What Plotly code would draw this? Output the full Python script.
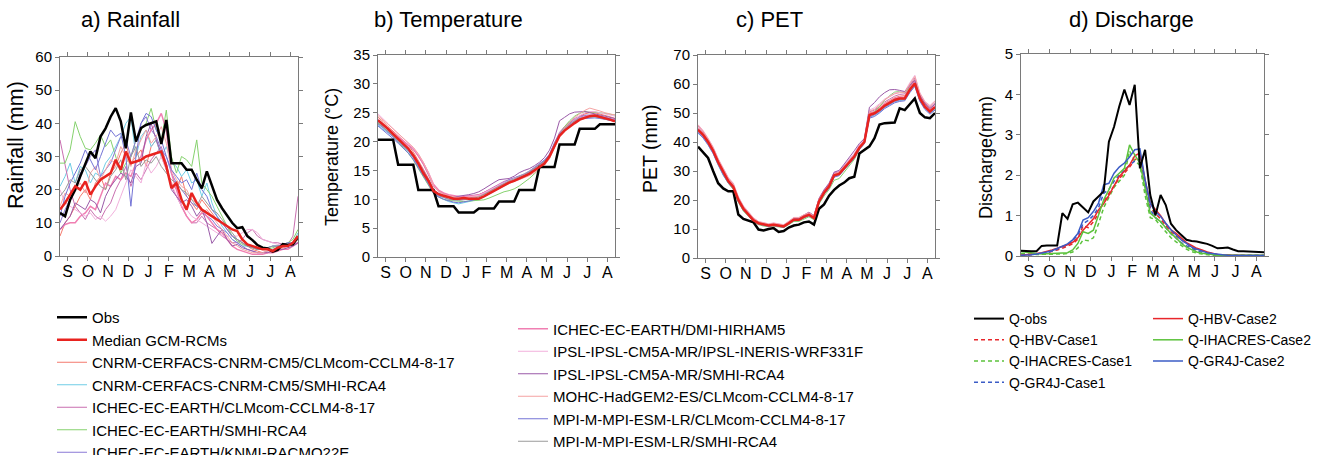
import plotly.graph_objects as go

W, H = 1339, 455

months = ["S", "O", "N", "D", "J", "F", "M", "A", "M", "J", "J", "A"]
month_pos = [1.5, 5.5, 9.5, 13.5, 17.5, 21.5, 25.5, 29.5, 33.5, 37.5, 41.5, 45.5]
steps = list(range(48))

model_names = [
    "CNRM-CERFACS-CNRM-CM5/CLMcom-CCLM4-8-17",
    "CNRM-CERFACS-CNRM-CM5/SMHI-RCA4",
    "ICHEC-EC-EARTH/CLMcom-CCLM4-8-17",
    "ICHEC-EC-EARTH/SMHI-RCA4",
    "ICHEC-EC-EARTH/KNMI-RACMO22E",
    "ICHEC-EC-EARTH/DMI-HIRHAM5",
    "IPSL-IPSL-CM5A-MR/IPSL-INERIS-WRF331F",
    "IPSL-IPSL-CM5A-MR/SMHI-RCA4",
    "MOHC-HadGEM2-ES/CLMcom-CCLM4-8-17",
    "MPI-M-MPI-ESM-LR/CLMcom-CCLM4-8-17",
    "MPI-M-MPI-ESM-LR/SMHI-RCA4",
]
model_colors = ["#f47a6e", "#6fcde6", "#c96fb0", "#86d26e", "#8a7ad6", "#f07fb2",
                "#f2b0dc", "#9a5aa8", "#f5a3a3", "#7474d6", "#9a9a9a"]

# ---------------- Rainfall (mm) ----------------
obs_rain = [13,12,17,20,24,28,31.5,29.5,36,38.5,42,44.6,40.6,32.5,43.3,34.5,38.6,39.5,40,40.6,
            33.8,41,28,28,28,26,26,23,20.4,25.5,21,17,14.4,12,10,8.4,8.7,6,4.8,3.3,
            2.5,2.3,1.3,1.8,3.6,3.3,3.5,5.8]
med_rain = [14,16,18.5,21,20,22.5,18.5,21,23,24,25,29,26,31.5,28,28.5,29,30,30.5,31,
            31.5,27,20.5,22,17,14,19,16,14,13,12,11,10,9,8,7.5,5,3.5,3,2.5,
            2,2,1.5,2.5,3,3,4,6]
rain_m1 = [6,10,12,15,18,20,17,22,24,20,25,27,31,34,28,30,32,27,33,35,30,26,22,20,24,18,16,14,17,15,13,11,10,8,6,5,4,3,2,1.5,1,1,1.5,2,2.5,3,3.5,5]
rain_m2 = [21,24,28,22,27,26,22,25,24,28,30,33,36,40,42,30,36,38,33,35,30,33,28,27,24,26,22,23,18,22,16,12,9,7,5,4,3,3,2.5,2,2,2.5,3,3,3,3.5,4,7]
rain_m3 = [35,28,20,15,13,11,14,12,11,14,16,20,23,27,21,25,23,26,29,31,33,28,21,18,15,12,10,10,12,10,9,8,6,5,4,4,5,7,8,6,5,4.5,4,4,3.5,3.5,6,18]
rain_m4 = [28,28,32,40.5,36,32.5,32,34,36.5,33,35,30,25,28,30,35,38,40,44.5,38,35,44,30,25,30,29,27,35,22,20,18,15,12,9,6,4.5,3.5,3,2.5,2,2,2,2.5,3,3.5,4,5,8]
rain_m5 = [10,14,17,20,25,27,30,32,24,26,28,32,36,35,30,35,40,42,38,36,32,30,25,22,20,18,16,15,14,12,11,9,8,7,5,4,3,2,1.5,1,1,1.5,2,2.5,3,3,3.5,4]
rain_m6 = [8,9.5,10,10,12,13,15,14,18,22,21,24,23,25,24,28,30,35,38,40,43,38,25,20,15,12,10,11,13,12,10,8,7,5,3,2,1.5,1,0.5,0.5,0.5,1,1,1.5,2,2,3,4]
rain_m7 = [20,16,15,14,13,12,13,11,12,10.5,12,14,18,22,26,24,22,28,25,27,30,26,22,18,15,14,12,11,10,9,8,7,6,6,6,6,7,8,8,7,5,4.5,4,3.5,3,3,4,5]
rain_m8 = [8,10,12,16,15,14,17,16,13,18,21,23,25,24,22,27,28,36,40,35,31,28,20,18,16,17,15,12,14,10,3.8,6,8,5,3,3.5,2.5,2,1.5,1,1,1,1.5,2,2,2.5,3,4]
rain_m9 = [15,19,18,20,22,19,25,27,23,26,29,28,33,30,27,32,35,38,34,36,39,34,26,23,21,20,17,16,13,14,12,10,8,6,4,3,2,1.5,1,1,1,1.5,2,2,2.5,3,3.5,5]
rain_m10 = [12,18,22,25,28,32,29,26,30,34,38,36,37,30,15,30,40,43,42,38,35,30,26,24,22,23,20,25,20,18,14,12,10,8,6,5,4,3,2.5,2,2,2.5,3,3,3.5,4,4,5]
rain_m11 = [18,20,23,22,26,27,25,23,21,20,24,26,29,23,30,33,27,29,28,30,27,25,23,22,20,19,17,15,18,16,14,13,11,9,7,5,4,3,2.5,2,2,2.5,3,3,3,3.5,4,5]

# ---------------- Temperature (°C) ----------------
obs_temp = [20.3,20.3,20.3,20.3,16,16,16,16,11.6,11.6,11.6,11.6,8.8,8.8,8.8,8.8,7.7,7.7,7.7,7.7,
            8.4,8.4,8.4,8.4,9.6,9.6,9.6,9.6,11.6,11.6,11.6,11.6,15.6,15.6,15.6,15.6,19.5,19.5,19.5,19.5,
            22.2,22.2,22.2,22.2,23,23,23,23]
med_temp = [23.7,23,22.2,21.3,20.5,19.6,18.8,17.6,16.2,14.5,13.2,11.4,10.9,10.6,10.3,10.1,10.1,10.2,10.1,10.1,
            10.1,10.5,11,11.5,12,12.5,12.9,13.2,13.6,13.9,14.4,15,15.6,16.2,17.4,19.2,21,21.9,22.6,23.2,
            23.8,24.1,24.4,24.5,24.3,24.1,23.8,23.5]
temp_m1 = [24.2,23.5,22.6,21.8,21,20.2,19.4,18.2,16.8,15.2,13.6,11.8,11,10.6,10.3,10.2,10.1,10.3,10.4,10.6,10.8,11.2,11.6,12,12.4,12.8,13.2,13.5,13.8,14.2,14.8,15.4,16,16.6,17.6,19.6,21.4,22.4,23.2,23.8,24.4,24.8,25,25,24.8,24.6,24.3,24]
temp_m2 = [22.8,22.2,21.5,20.8,20,19.2,18.3,17.2,15.8,14.2,12.8,11.2,10.5,10,9.6,9.4,9.2,9.4,9.6,9.8,10,10.4,10.9,11.4,11.9,12.4,12.8,13.2,13.6,14,14.5,15.1,15.8,16.5,17.5,19.4,21.2,22.2,23,23.6,24,24.2,24.3,24.3,24.2,24,23.8,23.5]
temp_m3 = [23.4,22.8,22.1,21.4,20.7,20,19.4,18.6,17.5,16,14.2,12.2,11.4,11,10.6,10.4,10.4,10.5,10.6,10.7,10.8,11.2,11.7,12.2,12.7,13.1,13.4,13.7,14,14.3,14.8,15.4,16,16.6,17.8,19.8,21.6,22.6,23.4,24,24.4,24.6,24.6,24.5,24.4,24.2,24,23.8]
temp_m4 = [23.2,22.5,21.7,20.9,20,19,18,16.8,15.3,13.8,12.4,11,10.4,10,9.8,9.7,9.6,9.6,9.7,9.8,9.8,9.9,10.2,10.6,11,11.3,11.5,11.8,12.3,12.9,13.6,14.4,15.2,16,17.2,19.2,21.2,22.6,23.6,24.4,24.9,25.2,25.2,25.1,25,24.9,24.8,24.6]
temp_m5 = [23,22.4,21.6,20.8,20,19.2,18.4,17.2,15.8,14.3,12.8,11.2,10.6,10.3,10,9.9,9.9,10,10.2,10.4,10.6,11,11.5,12,12.5,13,13.4,13.7,14,14.4,14.9,15.5,16.1,16.8,17.8,19.8,21.4,22.4,23.2,23.8,24.2,24.5,24.6,24.6,24.4,24.2,24,23.7]
temp_m6 = [23.8,23.1,22.3,21.5,20.8,20,19.4,18.8,17.6,16.2,14.6,12.6,11.6,11.1,10.8,10.6,10.5,10.5,10.5,10.6,10.7,11,11.4,11.9,12.3,12.7,13,13.3,13.6,14,14.5,15.1,15.7,16.3,17.3,19.3,21.1,22.1,22.9,23.5,24,24.3,24.5,24.5,24.3,24.1,23.9,23.6]
temp_m7 = [24.8,24,23.1,22.2,21.4,20.6,19.8,18.9,17.8,16.4,14.7,12.4,11.3,10.8,10.5,10.4,10.3,10.3,10.4,10.5,10.7,11.1,11.5,12,12.5,12.9,13.3,13.6,13.9,14.3,14.8,15.4,16,16.6,17.4,19,20.8,22,23,23.8,24.5,25,25.2,25.2,25,24.8,24.6,24.4]
temp_m8 = [23.5,22.8,22,21.2,20.4,19.6,18.8,17.8,16.5,15,13.4,11.6,11,10.7,10.5,10.4,10.5,10.6,10.8,11,11.3,11.8,12.4,12.9,13.4,13.5,13.6,14,14.6,15,15.3,15.8,16.4,17.2,18.5,20.6,23.6,24.2,24.8,25.1,25.2,25.2,25,24.8,24.6,24.4,24.2,24]
temp_m9 = [24.5,23.8,23,22.2,21.4,20.6,19.9,19,17.9,16.4,14.6,12.4,11.4,10.9,10.6,10.4,10.3,10.3,10.3,10.4,10.5,10.8,11.2,11.6,12,12.4,12.8,13.1,13.4,13.7,14.1,14.6,15.2,15.9,17,19,21,22.4,23.4,24.2,24.8,25.4,25.8,25.6,25.3,25,24.8,24.6]
temp_m10 = [22.7,22,21.3,20.5,19.7,18.9,18,16.9,15.5,14,12.6,11,10.4,10,9.7,9.5,9.4,9.5,9.7,9.9,10.1,10.5,11,11.5,12,12.5,12.9,13.3,13.7,14.1,14.7,15.3,16,16.7,17.6,19.3,21,22,22.8,23.4,23.8,24,24.1,24.1,24,23.9,23.7,23.5]
temp_m11 = [23.3,22.6,21.8,21,20.2,19.4,18.6,17.5,16,14.5,13,11.3,10.7,10.3,10,9.9,9.8,9.9,10,10.2,10.4,10.8,11.3,11.8,12.3,12.8,13.2,13.5,13.9,14.3,14.8,15.4,16,16.6,17.5,19.4,21.2,22.2,23,23.6,24,24.2,24.3,24.3,24.1,23.9,23.7,23.5]

# ---------------- PET (mm) ----------------
obs_pet = [38.4,36.5,34.5,30,25.8,24,23,23,15,13.5,13,12.3,9.8,9.5,10,10.3,9,9.3,10.5,11.2,
           11.5,12.3,12.6,11.5,17,18.5,21.5,23.5,25,26,27.5,28,36,37.3,38.5,41.3,46,46.5,46.5,46.7,
           51.6,51,53,55,50,48.5,48.2,50]
med_pet = [44.2,42.5,40,37,33,29.5,26.5,24.5,20,17,15,13,12,11.5,11.2,11.5,11.2,10.9,12,13.2,
           13.2,14.2,14.9,13.8,19.5,22.5,24.7,28.5,29,31,33,35,38,40,49.3,49.9,51,52.5,53.5,54.5,
           55,55,58,60.2,55,52.2,50.5,52]
pet_m1 = [45,43,40.5,37.5,33.5,30,27,25,20.5,17.5,15.5,13.5,12.3,11.8,11.5,11.8,11.5,11.2,12.4,13.6,13.6,14.6,15.3,14.2,20,23,25.2,29,29.5,31.5,33.5,35.5,38.5,40.5,50,50.5,51.8,53.3,54.3,55.3,55.8,56,59,61.5,56,53,51.5,53]
pet_m2 = [43,41.5,39,36,32,28.5,25.8,23.8,19.3,16.3,14.5,12.6,11.6,11.2,10.9,11.2,10.9,10.6,11.6,12.8,12.8,13.8,14.5,13.4,19,22,24.2,28,28.5,30.5,32.5,34.5,37.5,39.5,48.5,49.2,50.2,51.8,52.8,53.8,54.3,54.5,57.2,59.4,54.2,51.5,49.8,51.2]
pet_m3 = [45.5,43.5,41,38,34,30.5,27.5,25.5,20.8,17.7,15.6,13.6,12.4,11.9,11.6,11.9,11.6,11.3,12.5,13.8,13.8,14.8,15.5,14.4,20.3,23.3,25.5,29.3,29.8,31.8,33.8,35.8,38.8,40.8,50.4,51,52.3,53.8,54.8,55.8,56.4,56.6,59.6,62,56.4,53.4,52,53.5]
pet_m4 = [44,42.2,39.6,36.4,32.4,28.8,25.8,23.6,19.2,16.2,14.4,12.5,11.5,11,10.8,11,10.7,10.5,11.5,12.6,12.6,13.5,14.2,13.2,18.6,21.4,23.6,26.8,27.4,29.6,31.8,34,37.4,39.6,48.8,50.4,52.2,54.4,56,57.2,57.4,57,58.8,60,54.6,51.8,50.2,51.6]
pet_m5 = [43.5,41.8,39.4,36.4,32.6,29,26.2,24.2,19.8,16.8,14.8,12.8,11.8,11.3,11,11.3,11,10.7,11.8,13,13,14,14.7,13.6,19.2,22.2,24.4,28.2,28.7,30.8,32.8,34.8,37.8,39.8,48.6,49.4,50.5,52,53,54,54.5,54.7,57.5,59.8,54.6,51.8,50.2,51.6]
pet_m6 = [44.6,42.8,40.3,37.3,33.3,29.8,26.8,24.8,20.3,17.3,15.3,13.3,12.2,11.7,11.4,11.7,11.4,11.1,12.2,13.4,13.4,14.4,15.1,14,19.8,22.8,25,28.8,29.3,31.3,33.3,35.3,38.3,40.3,49.6,50.2,51.4,52.9,53.9,54.9,55.4,55.5,58.5,60.8,55.5,52.6,51,52.4]
pet_m7 = [46,44,41.3,38.3,34.3,30.8,27.8,25.8,21.2,18,15.9,13.9,12.6,12.1,11.8,12.1,11.8,11.5,12.7,14,14,15,15.8,14.6,20.6,23.6,25.8,29.6,30.1,32.1,34.1,36.1,39,41,51,51.8,53.2,54.8,55.8,56.8,57.3,57.4,60.4,63,57,54,52.6,54.2]
pet_m8 = [44.4,42.6,40.2,37.2,33.2,29.7,26.7,24.7,20.2,17.2,15.2,13.2,12.1,11.6,11.3,11.6,11.3,11,12.2,13.5,13.6,14.8,15.8,14.6,20.5,23.5,25.8,29.6,30.2,32.4,34.6,37,39.5,41.2,52,53.6,55.6,57,58,58.1,57.8,57.4,59.5,61.2,56,53.2,51.6,53]
pet_m9 = [45.8,43.8,41.1,38.1,34.1,30.6,27.6,25.6,21,17.8,15.8,13.8,12.5,12,11.7,12,11.7,11.4,12.6,13.9,13.9,14.9,15.6,14.5,20.2,23,25.2,29,29.6,31.6,33.6,35.6,38.6,40.6,50.6,51.3,52.8,54.5,55.6,56.6,57,57,60,62.6,56.8,53.8,52.3,54]
pet_m10 = [43.2,41.4,39,36,32.2,28.7,25.9,23.9,19.5,16.5,14.6,12.7,11.7,11.2,10.9,11.2,10.9,10.6,11.7,12.9,12.9,13.9,14.6,13.5,19,22,24.1,27.9,28.4,30.4,32.4,34.4,37.4,39.4,48.2,48.8,50,51.5,52.5,53.5,54,54.2,57,59.2,54,51.2,49.6,51]
pet_m11 = [44,42.2,39.8,36.8,32.8,29.3,26.3,24.3,19.8,16.8,14.9,12.9,11.9,11.4,11.1,11.4,11.1,10.8,11.9,13.1,13.1,14.1,14.8,13.7,19.4,22.4,24.6,28.4,28.9,30.9,32.9,34.9,37.9,39.9,49,49.7,50.8,52.2,53.2,54.2,54.7,54.8,57.7,60,54.8,52,50.3,51.8]

# ---------------- Discharge (mm) ----------------
q_obs = [0.13,0.12,0.12,0.12,0.25,0.26,0.26,0.26,1.06,0.92,1.28,1.32,1.2,1.08,1.35,1.47,1.6,2.83,3.2,3.7,
         4.12,3.74,4.24,2.17,2.63,1.51,1.0,1.51,1.26,0.8,0.64,0.52,0.4,0.37,0.36,0.33,0.3,0.25,0.19,0.2,
         0.21,0.16,0.12,0.12,0.11,0.1,0.1,0.09]
q_hbv1 = [0.01,0.02,0.03,0.04,0.06,0.08,0.11,0.15,0.19,0.24,0.3,0.42,0.75,0.7,0.85,1.05,1.35,1.55,1.75,1.92,
          2.05,2.2,2.38,2.45,1.8,1.2,1.05,0.92,0.75,0.6,0.5,0.4,0.3,0.22,0.16,0.12,0.08,0.05,0.03,0.02,
          0.02,0.01,0.01,0.01,0.01,0.01,0.01,0.01]
q_ihacres1 = [0.06,0.05,0.04,0.04,0.04,0.04,0.04,0.05,0.05,0.06,0.1,0.2,0.4,0.38,0.45,0.8,1.2,1.45,1.7,1.85,
              2.0,2.6,2.35,2.25,1.5,0.95,0.9,0.75,0.6,0.45,0.35,0.25,0.17,0.11,0.07,0.05,0.03,0.02,0.02,0.01,
              0.01,0.01,0.01,0.01,0.01,0.01,0.01,0.01]
q_gr4j1 = [0.01,0.02,0.03,0.04,0.06,0.09,0.12,0.17,0.22,0.28,0.38,0.52,0.8,0.88,1.0,1.2,1.55,1.65,1.85,2.0,
           2.12,2.25,2.35,2.4,1.75,1.15,0.95,0.85,0.7,0.55,0.44,0.33,0.25,0.18,0.13,0.09,0.06,0.04,0.03,0.02,
           0.01,0.01,0.01,0.01,0.01,0.01,0.01,0.01]
q_hbv2 = [0.02,0.03,0.04,0.06,0.08,0.11,0.15,0.19,0.23,0.28,0.34,0.45,0.64,0.78,0.92,1.14,1.3,1.5,1.75,1.97,
          2.1,2.25,2.48,2.55,1.88,1.3,1.15,1.0,0.8,0.65,0.56,0.45,0.33,0.26,0.19,0.15,0.1,0.07,0.04,0.03,
          0.02,0.02,0.02,0.01,0.01,0.01,0.01,0.01]
q_ihacres2 = [0.11,0.09,0.07,0.06,0.05,0.05,0.06,0.07,0.07,0.08,0.15,0.31,0.6,0.56,0.64,1.0,1.39,1.64,1.93,2.05,
              2.17,2.75,2.5,2.3,1.64,1.06,0.95,0.85,0.7,0.56,0.45,0.31,0.22,0.15,0.1,0.07,0.05,0.03,0.02,0.02,
              0.02,0.02,0.02,0.02,0.02,0.02,0.02,0.02]
q_gr4j2 = [0.02,0.02,0.03,0.05,0.07,0.1,0.13,0.19,0.24,0.3,0.4,0.56,0.89,0.95,1.1,1.31,1.76,1.8,2.05,2.2,
           2.3,2.45,2.63,2.65,1.88,1.3,1.1,0.98,0.81,0.65,0.52,0.4,0.31,0.22,0.17,0.12,0.08,0.06,0.04,0.03,
           0.02,0.02,0.01,0.01,0.01,0.01,0.01,0.01]

rain_models = [rain_m1, rain_m2, rain_m3, rain_m4, rain_m5, rain_m6, rain_m7, rain_m8, rain_m9, rain_m10, rain_m11]
temp_models = [temp_m1, temp_m2, temp_m3, temp_m4, temp_m5, temp_m6, temp_m7, temp_m8, temp_m9, temp_m10, temp_m11]
pet_models = [pet_m1, pet_m2, pet_m3, pet_m4, pet_m5, pet_m6, pet_m7, pet_m8, pet_m9, pet_m10, pet_m11]

FONT = "Liberation Sans, Arial, sans-serif"
fig = go.Figure()

panels = [("x", "y", rain_models, obs_rain, med_rain),
          ("x2", "y2", temp_models, obs_temp, med_temp),
          ("x3", "y3", pet_models, obs_pet, med_pet)]

for p, (xa, ya, models, obs, med) in enumerate(panels):
    for k, series in enumerate(models):
        fig.add_trace(go.Scatter(
            x=steps, y=series, xaxis=xa, yaxis=ya, mode="lines",
            line=dict(color=model_colors[k], width=1.5 if k == 5 else 1),
            name=model_names[k], legendgroup="m%d" % k,
            showlegend=(p == 0), legend="legend" if k < 5 else "legend2",
            legendrank=3 + k))
    fig.add_trace(go.Scatter(x=steps, y=obs, xaxis=xa, yaxis=ya, mode="lines",
                             line=dict(color="black", width=2.5), name="Obs",
                             legendgroup="obs", showlegend=(p == 0), legend="legend", legendrank=1))
    fig.add_trace(go.Scatter(x=steps, y=med, xaxis=xa, yaxis=ya, mode="lines",
                             line=dict(color="#e8231f", width=2.5), name="Median GCM-RCMs",
                             legendgroup="med", showlegend=(p == 0), legend="legend", legendrank=2))

RED, GREEN, BLUE = "#e8262b", "#5cc23c", "#3b5cc6"
q_series = [
    (q_hbv1, "Q-HBV-Case1", RED, "4px,3px", "legend3", 2),
    (q_ihacres1, "Q-IHACRES-Case1", GREEN, "4px,3px", "legend3", 3),
    (q_gr4j1, "Q-GR4J-Case1", BLUE, "4px,3px", "legend3", 4),
    (q_hbv2, "Q-HBV-Case2", RED, "solid", "legend4", 5),
    (q_ihacres2, "Q-IHACRES-Case2", GREEN, "solid", "legend4", 6),
    (q_gr4j2, "Q-GR4J-Case2", BLUE, "solid", "legend4", 7),
]
for ys, nm, col, dash, lg, rk in q_series:
    fig.add_trace(go.Scatter(x=steps, y=ys, xaxis="x4", yaxis="y4", mode="lines",
                             line=dict(color=col, width=1.5, dash=dash), name=nm,
                             legendgroup=nm, legend=lg, legendrank=rk))
fig.add_trace(go.Scatter(x=steps, y=q_obs, xaxis="x4", yaxis="y4", mode="lines",
                         line=dict(color="black", width=2), name="Q-obs",
                         legendgroup="qobs", legend="legend3", legendrank=1))

# panel geometry in pixels: (left, right, top, bottom)
boxes = [(60, 298, 57, 256), (378, 615, 55, 257), (698, 935, 55, 258), (1021, 1264, 54, 256)]
yranges = [(0, 60, 10), (0, 35, 5), (0, 70, 10), (0, 5, 1)]

axis_common = dict(showline=True, linecolor="#7a7a7a", linewidth=1, mirror="ticks",
                   ticks="outside", ticklen=4, tickcolor="#7a7a7a", showgrid=False,
                   zeroline=False)
layout = dict(width=W, height=H, margin=dict(l=0, r=0, t=0, b=0, autoexpand=False),
              paper_bgcolor="white", plot_bgcolor="white",
              font=dict(family=FONT, color="black"))
for i, (l, r, t, b) in enumerate(boxes):
    sfx = "" if i == 0 else str(i + 1)
    y0, y1, dt = yranges[i]
    layout["xaxis" + sfx] = dict(axis_common, domain=[l / W, r / W], range=[0, 47],
                                 tickvals=month_pos, ticktext=months, ticklabelstandoff=-3,
                                 tickfont=dict(size=16), anchor="y" + sfx)
    layout["yaxis" + sfx] = dict(axis_common, domain=[1 - b / H, 1 - t / H], range=[y0, y1],
                                 dtick=dt, tickfont=dict(size=15), anchor="x" + sfx)

leg_common = dict(xref="container", yref="container", xanchor="left", yanchor="top",
                  bgcolor="rgba(0,0,0,0)", font=dict(size=15, family=FONT), tracegroupgap=0)
layout["legend"] = dict(leg_common, x=52 / W, y=1 - 301 / H)
layout["legend2"] = dict(leg_common, x=513 / W, y=1 - 312.5 / H)
layout["legend3"] = dict(leg_common, x=969 / W, y=1 - 303 / H, font=dict(size=14, family=FONT))
layout["legend4"] = dict(leg_common, x=1148 / W, y=1 - 303 / H, font=dict(size=14, family=FONT))

titles = [("a) Rainfall", 130), ("b) Temperature", 448), ("c) PET", 769), ("d) Discharge", 1131)]
ann = []
for txt, cx in titles:
    ann.append(dict(text=txt, x=cx / W, y=1 - 20 / H, xref="paper", yref="paper",
                    showarrow=False, xanchor="center", yanchor="middle",
                    font=dict(size=22, family=FONT)))
ytitles = [("Rainfall (mm)", 16, 145, 21.5), ("Temperature (°C)", 332, 157, 18),
           ("PET (mm)", 650, 149, 19.5), ("Discharge(mm)", 986, 158, 18)]
for txt, cx, cy, fs in ytitles:
    ann.append(dict(text=txt, x=cx / W, y=1 - cy / H, xref="paper", yref="paper",
                    showarrow=False, xanchor="center", yanchor="middle", textangle=-90,
                    font=dict(size=fs, family=FONT)))
layout["annotations"] = ann
fig.update_layout(**layout)
fig.write_html("out.html")
